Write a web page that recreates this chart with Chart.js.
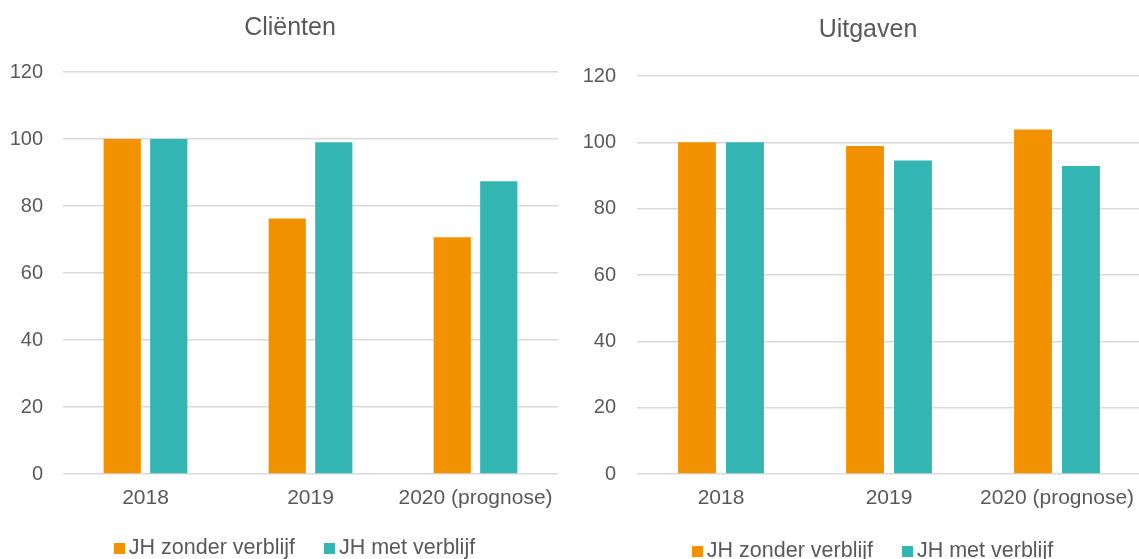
<!DOCTYPE html>
<html>
<head>
<meta charset="utf-8">
<script src="https://cdn.jsdelivr.net/npm/chart.js@4"></script>
<style>
  html, body { margin:0; padding:0; background:#fff; overflow:hidden; width:1139px; height:559px; }
  #c1 { position:absolute; left:0; top:0; }
  #c2 { position:absolute; left:572px; top:0; }
</style>
</head>
<body>
<canvas id="c1" width="580" height="559"></canvas>
<canvas id="c2" width="592" height="572"></canvas>
<script>
const categories = ['2018', '2019', '2020 (prognose)'];
const seriesNames = ['JH zonder verblijf', 'JH met verblijf'];
const clientenZonder = [100, 76.3, 70.7];
const clientenMet = [100, 99.0, 87.4];
const uitgavenZonder = [100, 98.9, 103.9];
const uitgavenMet = [100, 94.5, 92.9];
const yTicks = [0, 20, 40, 60, 80, 100, 120];

const ORANGE = '#F39200';
const TEAL = '#33B5B3';
const TEXT = '#595959';
const FONT = "'Liberation Sans', Arial, sans-serif";

// Legend drawn from the chart's own datasets (labels + colours)
const bottomLegend = {
  id: 'bottomLegend',
  afterDraw(chart, args, opts) {
    const ctx = chart.ctx;
    ctx.save();
    ctx.font = opts.fontSize + 'px ' + FONT;
    ctx.textBaseline = 'middle';
    ctx.textAlign = 'left';
    const box = 11, gapText = 4, gapItem = 29;
    const items = chart.data.datasets.map(ds => ({
      text: ds.label, color: ds.backgroundColor, w: ctx.measureText(ds.label).width
    }));
    let total = 0;
    items.forEach((it, i) => { total += box + gapText + it.w + (i ? gapItem : 0); });
    let x = opts.cx - total / 2;
    items.forEach((it, i) => {
      if (i) x += gapItem;
      ctx.fillStyle = it.color;
      ctx.fillRect(Math.round(x), Math.round(opts.cy - box / 2), box, box);
      x += box + gapText;
      ctx.fillStyle = TEXT;
      ctx.fillText(it.text, x, opts.cy);
      x += it.w;
    });
    ctx.restore();
  }
};

function makeChart(id, title, zonder, met, cfg) {
  return new Chart(document.getElementById(id), {
    type: 'bar',
    data: {
      labels: categories,
      datasets: [
        { label: seriesNames[0], data: zonder, backgroundColor: ORANGE,
          categoryPercentage: cfg.cat, barPercentage: cfg.bar },
        { label: seriesNames[1], data: met, backgroundColor: TEAL,
          categoryPercentage: cfg.cat, barPercentage: cfg.bar }
      ]
    },
    plugins: [bottomLegend],
    options: {
      responsive: false,
      animation: false,
      devicePixelRatio: 1,
      layout: { padding: { left: 0, right: 0, top: 0, bottom: cfg.lpb } },
      plugins: {
        title: {
          display: true, text: title, color: TEXT,
          font: { family: FONT, size: 25, weight: 'normal' },
          padding: { top: cfg.tpt, bottom: cfg.tpb }
        },
        legend: { display: false },
        tooltip: { enabled: false },
        bottomLegend: { cx: cfg.legCx, cy: cfg.legCy, fontSize: 21.5 }
      },
      scales: {
        x: {
          grid: { display: false, drawTicks: false },
          border: { display: false },
          ticks: { color: TEXT, font: { family: FONT, size: 21 }, padding: 11.4, maxRotation: 0 },
          afterFit: (scale) => { scale.height = cfg.xh; }
        },
        y: {
          min: 0, max: 120,
          afterBuildTicks: (axis) => { axis.ticks = yTicks.map(v => ({ value: v })); },
          grid: { color: '#d9d9d9', lineWidth: 1.5, drawTicks: false },
          border: { display: false },
          ticks: { color: TEXT, font: { family: FONT, size: 20 }, padding: cfg.ypad },
          afterFit: (scale) => { scale.width = cfg.yw; }
        },
        yRightSpace: {
          type: 'linear', position: 'right', display: true,
          grid: { display: false, drawTicks: false },
          border: { display: false },
          ticks: { display: false },
          afterFit: (scale) => { scale.width = cfg.rw; }
        }
      }
    }
  });
}

makeChart('c1', 'Cliënten', clientenZonder, clientenMet,
  { cat: 0.564, bar: 0.8, lpb: 49.5, tpt: 13, tpb: 29, ypad: 20, yw: 63, rw: 22, xh: 35.5,
    legCx: 294.5, legCy: 548.5 });
makeChart('c2', 'Uitgaven', uitgavenZonder, uitgavenMet,
  { cat: 0.571, bar: 0.79, lpb: 62.5, tpt: 15, tpb: 31, ypad: 21, yw: 65, rw: 23, xh: 35.5,
    legCx: 300.5, legCy: 551.5 });
</script>
</body>
</html>
